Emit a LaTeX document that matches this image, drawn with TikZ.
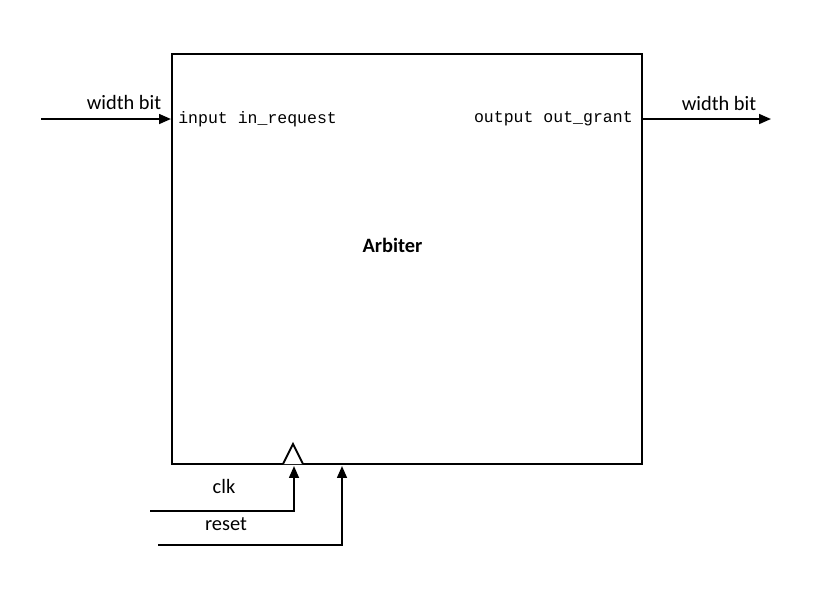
\documentclass[tikz,border=0pt]{standalone}
\usepackage{fontspec}
\setmainfont{Carlito}
\setmonofont{Liberation Mono}
\usetikzlibrary{arrows.meta,positioning}
\tikzset{
	wire/.style={line width=1.4pt},
	sig/.style={wire,-{Triangle[length=8.5pt,width=7pt]}},
	lbl/.style={font=\fontsize{14.5}{16}\selectfont,inner sep=0pt},
	port/.style={font=\ttfamily\fontsize{11.75}{13}\selectfont,inner sep=0pt}
}
\begin{document}
\begin{tikzpicture}[x=0.025cm,y=-0.025cm]
	\useasboundingbox (0,0) rectangle (813,608);
	% block
	\node[draw,wire,minimum width=11.75cm,minimum height=10.25cm,inner sep=0pt] (box) at (407,259) {};
	\node[lbl,font=\fontsize{14.5}{16}\selectfont\bfseries,anchor=base] (title) at (392.5,252) {Arbiter};
	\node[port,anchor=base west] (inport) at (178,123) {input in\_request};
	\node[port,anchor=base east] (outport) at (633,122) {output out\_grant};
	% request / grant
	\coordinate (reqsrc) at (41,119);
	\coordinate (grantdst) at (771,119);
	\draw[sig] (reqsrc) -- (reqsrc -| box.west);
	\draw[sig] (box.east |- grantdst) -- (grantdst);
	\node[lbl,anchor=base] (reqw) at (124,109) {width bit};
	\node[lbl,anchor=base] (grantw) at (719,110) {width bit};
	% clock pin
	\coordinate (clkpin) at (293,464);
	\draw[wire,fill=white] ([xshift=-0.25cm]clkpin) -- ++(10,-20) -- ++(10,20);
	% clk / reset
	\coordinate (clksrc) at (150,511);
	\coordinate (clkend) at (294,466);
	\coordinate (rstsrc) at (158,545);
	\coordinate (rstend) at (342,466);
	\draw[sig] (clksrc) -| (clkend);
	\draw[sig] (rstsrc) -| (rstend);
	\node[lbl,anchor=base] (clk) at (224,493) {clk};
	\node[lbl,anchor=base] (rst) at (226,530) {reset};
\end{tikzpicture}
\end{document}
